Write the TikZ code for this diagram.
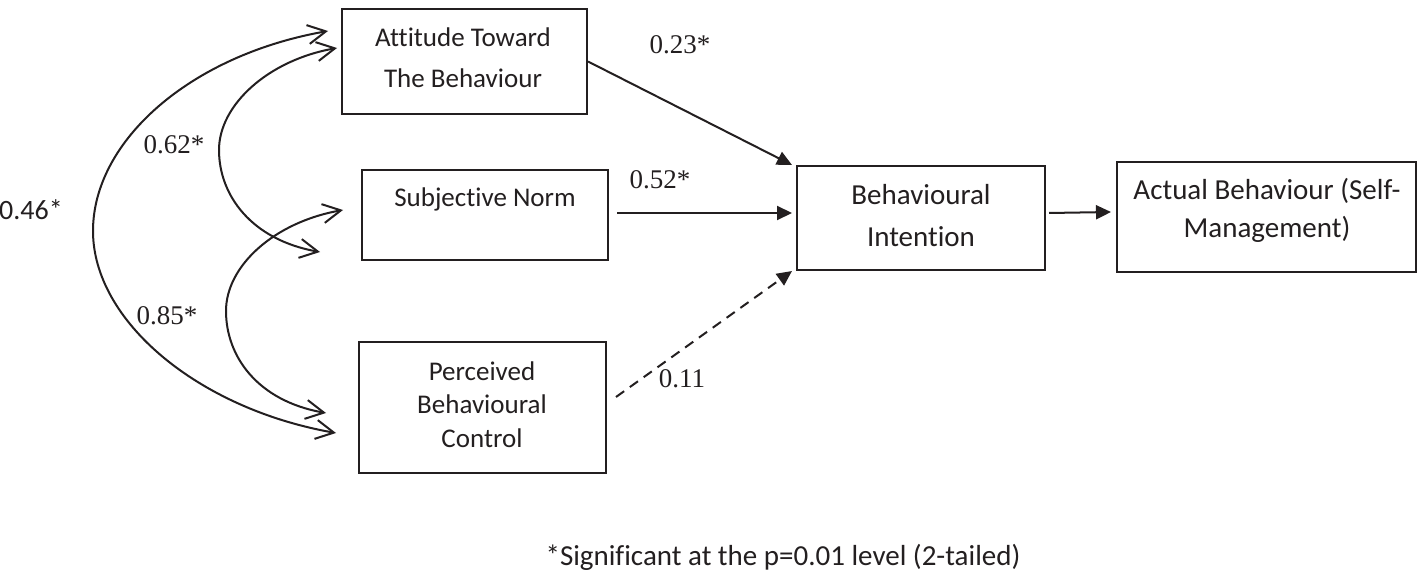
\documentclass[tikz,border=0pt]{standalone}
\usepackage{fontspec}
\setmainfont{Liberation Serif}
\newfontfamily\sansf[Ligatures=NoCommon]{Carlito}
\usetikzlibrary{arrows.meta}
\definecolor{ink}{RGB}{35,31,32}
\begin{document}
\begin{tikzpicture}[x=1pt,y=-1pt,
  every node/.style={text=ink},
  box/.style={draw=ink, line width=2pt, inner sep=0pt},
  boxtext/.style={anchor=base, inner sep=0pt, font=\sansf\fontsize{27}{32}\selectfont},
  bigtext/.style={anchor=base, inner sep=0pt, font=\sansf\fontsize{29}{34}\selectfont},
  coef/.style={anchor=base, inner sep=0pt, font=\fontsize{27}{32}\selectfont},
  path/.style={draw=ink, line width=2pt, -{Triangle[length=15pt,width=14pt]}},
  corr/.style={draw=ink, line width=2pt, {Straight Barb[length=18pt,width=19pt]}-{Straight Barb[length=18pt,width=19pt]}}
]
\useasboundingbox (0,0) rectangle (1424,580);

% boxes
\node[box, minimum width=245pt, minimum height=105pt] (att) at (464.5,61.5) {};
\node[box, minimum width=246pt, minimum height=90pt]  (sn)  at (485,215) {};
\node[box, minimum width=247pt, minimum height=131pt] (pbc) at (482.5,407.5) {};
\node[box, minimum width=248pt, minimum height=104pt] (bi)  at (921,218) {};
\node[box, minimum width=299pt, minimum height=110pt] (ab)  at (1266.5,217) {};

% box texts
\node[boxtext] (att1) at (463,47) {Attitude Toward};
\node[boxtext] (att2) at (463,88) {The Behaviour};
\node[boxtext] (sn1)  at (485,207) {Subjective Norm};
\node[boxtext] (pbc1) at (482,380) {Perceived};
\node[boxtext] (pbc2) at (482,413) {Behavioural};
\node[boxtext] (pbc3) at (482,447) {Control};
\node[bigtext] (bi1)  at (921,205) {Behavioural};
\node[bigtext] (bi2)  at (921,247) {Intention};
\node[bigtext] (ab1)  at (1267,200) {Actual Behaviour (Self-};
\node[bigtext] (ab2)  at (1267,237) {Management)};

% direct paths
\draw[path] (att.east) -- ([xshift=-4pt]bi.north west);
\draw[path] ([shift={(8,-2)}]sn.east) -- ([shift={(-4,-5)}]bi.west);
\draw[path, dash pattern=on 10pt off 7pt] ([shift={(9,-10.5)}]pbc.east) -- ([xshift=-4pt]bi.south west);
\draw[path] ([shift={(3,-5)}]bi.east) -- ([shift={(-5,-5)}]ab.west);

% correlation arcs
\coordinate (o1) at (328,31);
\coordinate (om) at (93,231);
\coordinate (o2) at (336,433);
\coordinate (a1) at (337,48);
\coordinate (am) at (219,150);
\coordinate (a2) at (320,252);
\coordinate (b1) at (343,210);
\coordinate (bm) at (226,311);
\coordinate (b2) at (326,413);

\draw[corr] (o1) .. controls +(-137.9,24.3) and +(0,-90) .. (om)
                 .. controls +(0,90) and +(-137.9,-24.3) .. (o2);
\draw[corr] (a1) .. controls +(-68.9,12.2) and +(0,-45) .. (am)
                 .. controls +(0,45) and +(-68.9,-12.2) .. (a2);
\draw[corr] (b1) .. controls +(-68.9,12.2) and +(0,-45) .. (bm)
                 .. controls +(0,45) and +(-68.9,-12.2) .. (b2);

% coefficients
\node[coef] (c23) at (680,54) {0.23*};
\node[coef] (c52) at (660,189) {0.52*};
\node[coef] (c11) at (682,387) {0.11};
\node[coef] (c62) at (174,154) {0.62*};
\node[coef] (c85) at (167,324) {0.85*};
\node[anchor=base west, inner sep=0pt, font=\sansf\fontsize{28}{32}\selectfont] (c46) at (-1,220) {0.46*};

% footnote
\node[bigtext] (note) at (783,565) {*Significant at the p=0.01 level (2-tailed)};
\end{tikzpicture}
\end{document}
